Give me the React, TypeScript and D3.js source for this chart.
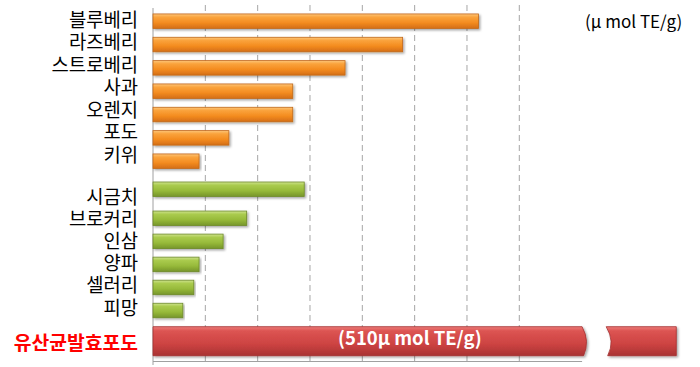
import React from "react";
import * as d3 from "d3";

const fruits = ["블루베리", "라즈베리", "스트로베리", "사과", "오렌지", "포도", "키위"];
const fruitValues = [62.2, 47.7, 36.7, 26.7, 26.7, 14.5, 8.8];
const vegetables = ["시금치", "브로커리", "인삼", "양파", "셀러리", "피망"];
const vegValues = [28.9, 17.9, 13.4, 8.8, 7.8, 5.7];
const highlightLabel = "유산균발효포도";
const highlightValue = 510;
const highlightText = "(510µ mol TE/g)";
const unitText = "(µ mol TE/g)";
const gridTicks = [10, 20, 30, 40, 50, 60, 70];

const W = 700;
const H = 367;
const LABEL_FONT = "'Noto Sans CJK KR', 'Noto Sans', sans-serif";

export default function App() {
  // x scale in display units; the highlighted bar is drawn on a broken axis
  const x = d3.scaleLinear().domain([0, 100]).range([153, 676.3]);
  const breakStart = 82;
  const breakEnd = 86.6;
  const displayMax = 100;

  const barH = 14.5;
  const yFruit = d3.scalePoint<string>().domain(fruits).range([21.2, 161.2]);
  const yVegRest = d3.scalePoint<string>().domain(vegetables.slice(1)).range([218.3, 310.5]);
  const yVeg = (name: string) =>
    name === vegetables[0]
      ? (yVegRest(vegetables[1]) as number) - yVegRest.step() * 1.26
      : (yVegRest(name) as number);
  const redCenter = 341.2;
  const redH = 29;

  const yFruitLabel = d3.scalePoint<string>().domain(fruits).range([18.3, 153]);
  const yVegLabel = d3.scalePoint<string>().domain(vegetables).range([195, 306]);
  const labelX = 138;

  const axisY = 361.5;

  const bar = (key: string, y: number, v: number, grad: string, stroke: string) => (
    <rect
      key={key}
      x={x(0)}
      y={y - barH / 2}
      width={x(v) - x(0)}
      height={barH}
      fill={`url(#${grad})`}
      stroke={stroke}
      strokeWidth={0.8}
      filter="url(#shadow)"
    />
  );

  const rTop = redCenter - redH / 2;
  const rBot = redCenter + redH / 2;
  const xb1 = x(breakStart);
  const xb2 = x(breakEnd);
  const xEnd = x(displayMax);
  const leftPiece = `M${x(0)},${rTop} L${xb1},${rTop} Q${xb1 + 8},${redCenter} ${xb1 + 1.5},${rBot} L${x(0)},${rBot} Z`;
  const rightPiece = `M${xb2},${rTop} L${xEnd},${rTop} L${xEnd},${rBot} L${xb2 + 1.5},${rBot} Q${xb2 + 9},${redCenter} ${xb2},${rTop} Z`;

  return (
    <svg
      width={W}
      height={H}
      viewBox={`0 0 ${W} ${H}`}
      style={{ position: "absolute", left: 0, top: 0, background: "#fff" }}
    >
      <defs>
        <linearGradient id="gOrange" x1="0" y1="0" x2="0" y2="1">
          <stop offset="0" stopColor="#FDC67A" />
          <stop offset="0.22" stopColor="#FAA33C" />
          <stop offset="0.6" stopColor="#F48C20" />
          <stop offset="1" stopColor="#D46E16" />
        </linearGradient>
        <linearGradient id="gGreen" x1="0" y1="0" x2="0" y2="1">
          <stop offset="0" stopColor="#CFE38E" />
          <stop offset="0.22" stopColor="#AACB4E" />
          <stop offset="0.6" stopColor="#97BA3A" />
          <stop offset="1" stopColor="#76952A" />
        </linearGradient>
        <linearGradient id="gRed" x1="0" y1="0" x2="0" y2="1">
          <stop offset="0" stopColor="#EC7C78" />
          <stop offset="0.15" stopColor="#DC5452" />
          <stop offset="0.6" stopColor="#CD4342" />
          <stop offset="1" stopColor="#A93333" />
        </linearGradient>
        <filter id="shadow" x="-5%" y="-30%" width="110%" height="170%">
          <feDropShadow dx="1.5" dy="1.5" stdDeviation="1" floodColor="#000" floodOpacity="0.35" />
        </filter>
      </defs>

      {/* grid lines */}
      {gridTicks.map((t) => (
        <line
          key={t}
          x1={x(t)}
          x2={x(t)}
          y1={5}
          y2={365}
          stroke="#A6A6A6"
          strokeWidth={1}
          strokeDasharray="6 4"
        />
      ))}
      {/* axes */}
      <line x1={x(0)} x2={x(0)} y1={8} y2={365} stroke="#A0A0A0" strokeWidth={1} />
      <line x1={x(0)} x2={x(breakStart)} y1={axisY} y2={axisY} stroke="#A0A0A0" strokeWidth={1} />

      {/* fruit bars */}
      {fruits.map((f, i) => bar(f, yFruit(f) as number, fruitValues[i], "gOrange", "#C2691A"))}
      {/* vegetable bars */}
      {vegetables.map((v, i) => bar(v, yVeg(v), vegValues[i], "gGreen", "#6E8A2A"))}

      {/* highlighted broken bar */}
      <g filter="url(#shadow)" data-value={highlightValue}>
        <path d={leftPiece} fill="url(#gRed)" stroke="#A33030" strokeWidth={0.8} />
        <path d={rightPiece} fill="url(#gRed)" stroke="#A33030" strokeWidth={0.8} />
      </g>
      <text
        x={338}
        y={redCenter - 4.5}
        fill="#fff"
        fontFamily={LABEL_FONT}
        fontWeight="bold"
        fontSize={18.5}
        dominantBaseline="central"
      >
        {highlightText}
      </text>

      {/* labels */}
      {fruits.map((f) => (
        <text
          key={f}
          x={labelX}
          y={yFruitLabel(f)}
          textAnchor="end"
          dominantBaseline="central"
          fontFamily={LABEL_FONT}
          fontSize={18.8}
          fill="#000"
        >
          {f}
        </text>
      ))}
      {vegetables.map((v) => (
        <text
          key={v}
          x={labelX}
          y={yVegLabel(v)}
          textAnchor="end"
          dominantBaseline="central"
          fontFamily={LABEL_FONT}
          fontSize={18.8}
          fill="#000"
        >
          {v}
        </text>
      ))}
      <text
        x={labelX}
        y={341.7}
        textAnchor="end"
        dominantBaseline="central"
        fontFamily={LABEL_FONT}
        fontSize={19.3}
        fontWeight="bold"
        fill="#FF0000"
      >
        {highlightLabel}
      </text>

      {/* unit */}
      <text
        x={585}
        y={20}
        dominantBaseline="central"
        fontFamily={LABEL_FONT}
        fontSize={17}
        fill="#000"
      >
        {unitText}
      </text>
    </svg>
  );
}
